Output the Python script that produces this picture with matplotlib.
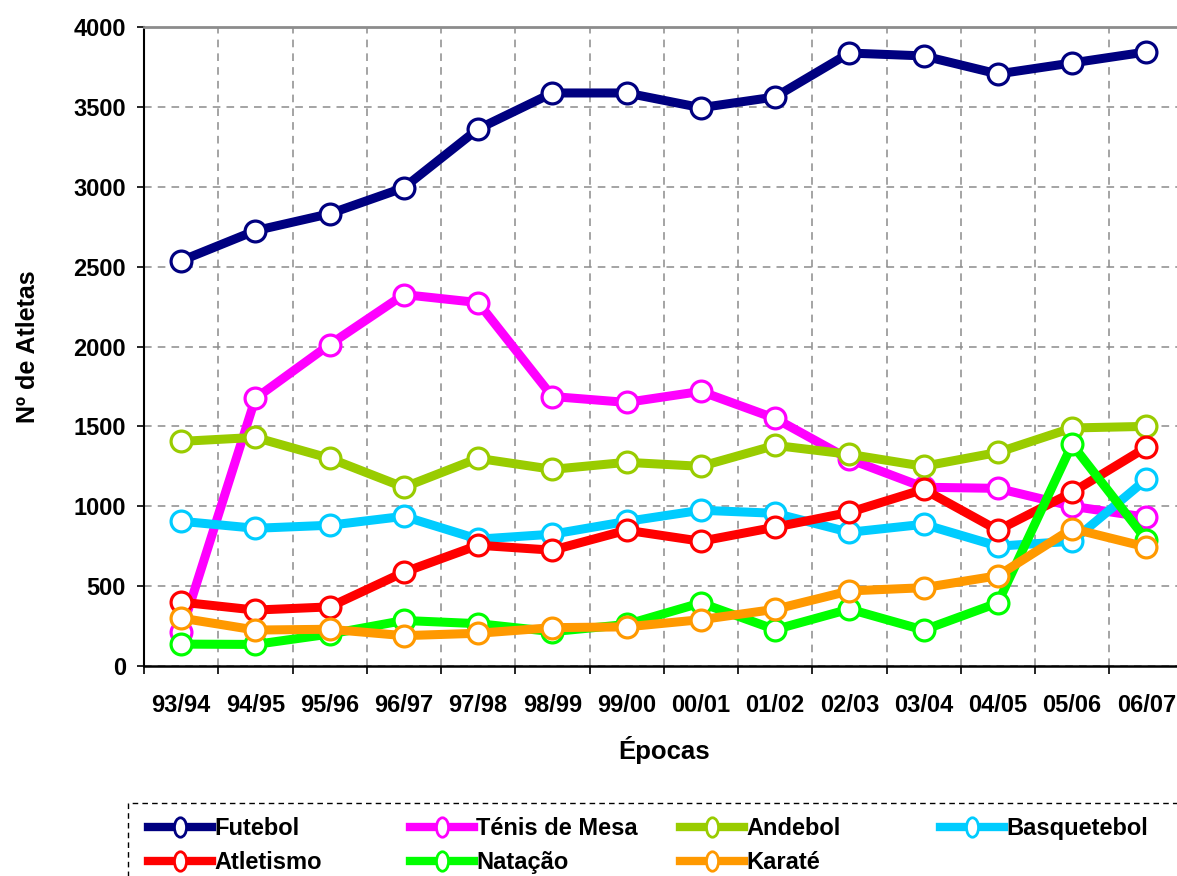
import matplotlib
matplotlib.use("Agg")
import matplotlib.pyplot as plt
from matplotlib.lines import Line2D
from matplotlib.patches import Rectangle
from matplotlib.path import Path
from matplotlib.transforms import Affine2D

plt.rcParams['font.family'] = ['Liberation Sans', 'DejaVu Sans']
plt.rcParams['font.weight'] = 'bold'

epocas = ['93/94', '94/95', '95/96', '96/97', '97/98', '98/99', '99/00',
          '00/01', '01/02', '02/03', '03/04', '04/05', '05/06', '06/07']

futebol = [2537, 2725, 2831, 2994, 3362, 3587, 3587, 3495, 3562, 3837, 3819, 3706, 3775, 3844]
tenis_mesa = [212, 1675, 2012, 2325, 2275, 1687, 1650, 1719, 1550, 1294, 1119, 1112, 1000, 931]
andebol = [1406, 1431, 1300, 1119, 1300, 1231, 1275, 1250, 1381, 1325, 1250, 1337, 1490, 1500]
basquetebol = [906, 862, 881, 937, 794, 825, 905, 975, 956, 837, 887, 750, 781, 1169]
atletismo = [400, 350, 370, 587, 756, 725, 850, 781, 869, 962, 1106, 850, 1087, 1369]
natacao = [137, 135, 200, 285, 265, 215, 260, 395, 228, 356, 225, 395, 1387, 790]
karate = [300, 225, 230, 190, 205, 240, 245, 290, 355, 470, 490, 565, 860, 745]

series = [
    ('Futebol', futebol, '#000080'),
    ('Ténis de Mesa', tenis_mesa, '#FF00FF'),
    ('Andebol', andebol, '#99CC00'),
    ('Basquetebol', basquetebol, '#00CCFF'),
    ('Atletismo', atletismo, '#FF0000'),
    ('Natação', natacao, '#00FF00'),
    ('Karaté', karate, '#FF9900'),
]

fig = plt.figure(figsize=(11.77, 8.76), dpi=100)
ax = fig.add_axes([144 / 1177, 210 / 876, 1039.5 / 1177, 639 / 876])

x = list(range(len(epocas)))
for name, vals, col in series:
    ax.plot(x, vals, color=col, lw=6.5, marker='o', ms=15, mfc='white',
            mec=col, mew=2.3, solid_joinstyle='round', solid_capstyle='round',
            label=name, zorder=3)

ax.set_xlim(-0.5, len(epocas) - 0.5)
ax.set_ylim(0, 4000)
ax.set_yticks(range(0, 4001, 500))
ax.set_xticks(x)
ax.set_xticklabels(epocas)
ax.set_xticks([i - 0.5 for i in range(len(epocas) + 1)], minor=True)

ax.tick_params(axis='x', which='major', length=0, pad=20, labelsize=17)
ax.tick_params(axis='x', which='minor', length=6, width=1.2, direction='out')
ax.tick_params(axis='y', length=5, width=1.2, pad=8, labelsize=17)

grid_style = dict(color='#8c8c8c', linestyle=(0, (5, 4)), linewidth=1.1)
ax.yaxis.grid(True, **grid_style)
ax.xaxis.grid(True, which='minor', **grid_style)
ax.set_axisbelow(True)

ax.spines['top'].set_color('#8c8c8c')
ax.spines['top'].set_linewidth(2)
ax.spines['right'].set_visible(False)
ax.spines['left'].set_linewidth(1.5)
ax.spines['bottom'].set_linewidth(1.8)

ax.set_xlabel('Épocas', fontsize=18.5, fontweight='bold', labelpad=14)
ax.set_ylabel('Nº de Atletas', fontsize=18, fontweight='bold', labelpad=24)

# legend handles: thick line with a narrow oval marker in the middle
oval = Path.unit_circle().transformed(Affine2D().scale(0.62, 1.0))
handles = {name: Line2D([], [], color=col, lw=6, marker=oval, ms=14, mfc='white',
                        mec=col, mew=2)
           for name, vals, col in series}

columns = [
    (148, ['Futebol', 'Atletismo']),
    (410, ['Ténis de Mesa', 'Natação']),
    (680, ['Andebol', 'Karaté']),
    (940, ['Basquetebol']),
]
for xpos, names in columns:
    fig.legend([handles[n] for n in names], names, loc='upper left',
               bbox_to_anchor=(xpos / 1177, 1 - 817 / 876), frameon=False,
               borderpad=0, borderaxespad=0, handlelength=2.7,
               handletextpad=0.1, labelspacing=0.48,
               prop={'size': 17, 'weight': 'bold'})

fig.patches.append(Rectangle((128 / 1177, -0.05), 1.0, 0.05 + 1 - 803 / 876,
                             transform=fig.transFigure, fill=False,
                             edgecolor='black', linewidth=1,
                             linestyle=(0, (4, 3))))

fig.savefig('out.png', dpi=100)
